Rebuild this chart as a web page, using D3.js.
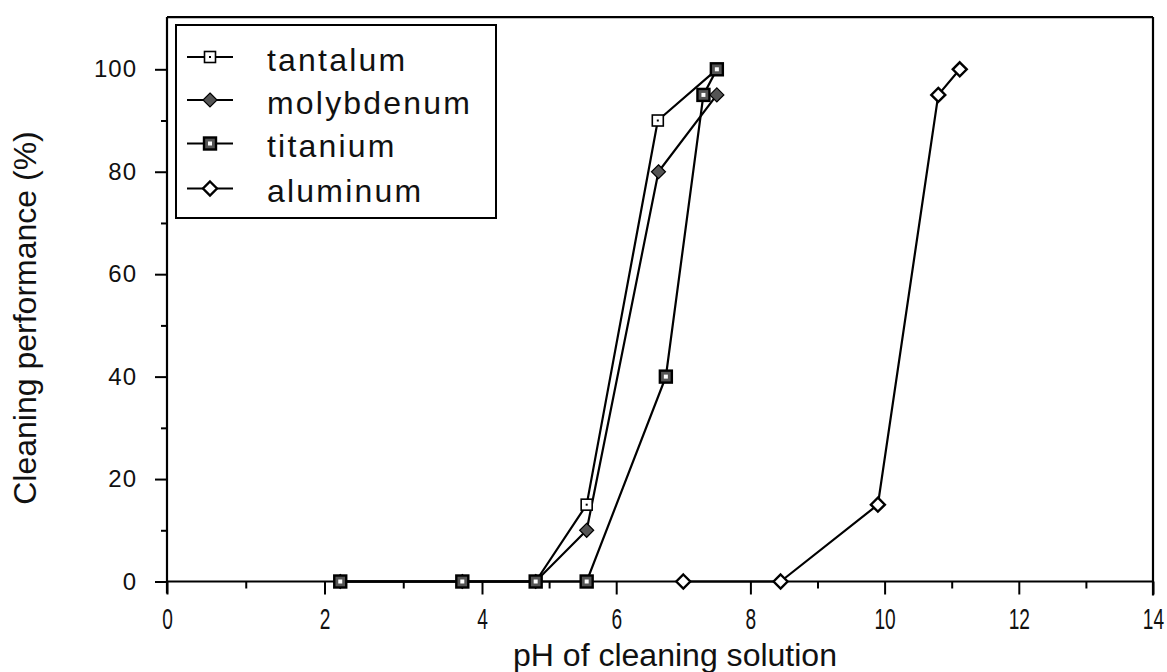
<!DOCTYPE html>
<html><head><meta charset="utf-8">
<script src="https://cdn.jsdelivr.net/npm/d3@7"></script>
<style>body{margin:0;background:#fff} svg{display:block}</style>
</head><body><svg id="c" width="1167" height="672"></svg>
<script>
// ---- data ----
const seriesNames = ["tantalum", "molybdenum", "titanium", "aluminum"];
const tantalumPH   = [2.2, 3.75, 4.8, 5.56, 6.62, 7.5];
const tantalumVal  = [0, 0, 0, 15, 90, 100];
const molybdenumPH  = [2.2, 3.75, 4.8, 5.56, 6.63, 7.5];
const molybdenumVal = [0, 0, 0, 10, 80, 95];
const titaniumPH   = [2.2, 3.75, 4.8, 5.56, 6.74, 7.3, 7.5];
const titaniumVal  = [0, 0, 0, 0, 40, 95, 100];
const aluminumPH   = [7.0, 8.45, 9.9, 10.8, 11.12];
const aluminumVal  = [0, 0, 15, 95, 100];
const xMajorTicks = [0, 2, 4, 6, 8, 10, 12, 14];
const xMinorTicks = [1, 3, 5, 7, 9, 11, 13];
const yMajorTicks = [0, 20, 40, 60, 80, 100];
const yMinorTicks = [10, 30, 50, 70, 90];
const xTitle = "pH of cleaning solution";
const yTitle = "Cleaning performance (%)";

const FONT = "'Liberation Sans', Arial, Helvetica, sans-serif";
const svg = d3.select("#c");

// scanned axis is slightly non-uniform: piecewise linear scale
const x = d3.scaleLinear().domain([0, 4, 14]).range([167, 482, 1153]);
const y = d3.scaleLinear().domain([0, 100]).range([581.5, 69.3]);
const yTopVal = 110.2;

const series = [
  {name: seriesNames[0], pts: d3.zip(tantalumPH, tantalumVal), sym: "tantalum"},
  {name: seriesNames[1], pts: d3.zip(molybdenumPH, molybdenumVal), sym: "molybdenum"},
  {name: seriesNames[2], pts: d3.zip(titaniumPH, titaniumVal), sym: "titanium"},
  {name: seriesNames[3], pts: d3.zip(aluminumPH, aluminumVal), sym: "aluminum"}
];

// ---- axes ----
const xAxisMajor = d3.axisBottom(x).tickValues(xMajorTicks).tickSize(13).tickPadding(14).tickFormat(d3.format("d"));
const xAxisMinor = d3.axisBottom(x).tickValues(xMinorTicks).tickSize(7).tickFormat("");
const gx = svg.append("g").attr("transform", `translate(0,${y(0)})`);
gx.call(xAxisMajor);
gx.append("g").call(xAxisMinor);
gx.selectAll(".domain").remove();
gx.selectAll("line").attr("stroke", "#000").attr("stroke-width", 2);
gx.selectAll("text").attr("font-family", FONT).attr("font-size", 29).attr("fill", "#111")
  .attr("transform", "scale(0.66,1)");

const yAxisMajor = d3.axisLeft(y).tickValues(yMajorTicks).tickSize(12).tickPadding(18);
const yAxisMinor = d3.axisLeft(y).tickValues(yMinorTicks).tickSize(6).tickFormat("");
const gy = svg.append("g").attr("transform", `translate(${x(0)},0)`);
gy.call(yAxisMajor);
gy.append("g").call(yAxisMinor);
gy.selectAll(".domain").remove();
gy.selectAll("line").attr("stroke", "#000").attr("stroke-width", 2);
gy.selectAll("text").attr("font-family", FONT).attr("font-size", 24).attr("fill", "#111")
  .attr("letter-spacing", 1);

// frame
const frame = svg.append("g").attr("stroke", "#000").attr("stroke-width", 2.2).attr("fill", "none");
frame.append("line").attr("x1", x(0)).attr("x2", x(14)).attr("y1", y(0)).attr("y2", y(0));
frame.append("line").attr("x1", x(0)).attr("x2", x(0)).attr("y1", y(0) + 12).attr("y2", y(yTopVal));
frame.append("line").attr("x1", x(0)).attr("x2", x(14)).attr("y1", y(yTopVal)).attr("y2", y(yTopVal));
frame.append("line").attr("x1", x(14)).attr("x2", x(14)).attr("y1", y(yTopVal)).attr("y2", y(0) + 14);

// titles
svg.append("text").attr("x", 675).attr("y", 666).attr("text-anchor", "middle")
  .attr("font-family", FONT).attr("font-size", 31).attr("fill", "#111")
  .attr("textLength", 324).attr("lengthAdjust", "spacingAndGlyphs").text(xTitle);
svg.append("text").attr("transform", "translate(36,318) rotate(-90)").attr("text-anchor", "middle")
  .attr("font-family", FONT).attr("font-size", 32).attr("fill", "#111").text(yTitle);

// ---- symbols ----
function drawSymbol(g, kind, cx, cy) {
  if (kind === "tantalum") {
    g.append("rect").attr("x", cx - 5.5).attr("y", cy - 5.5).attr("width", 11).attr("height", 11)
      .attr("fill", "#fff").attr("stroke", "#000").attr("stroke-width", 1.6);
    g.append("rect").attr("x", cx - 1).attr("y", cy - 1).attr("width", 2).attr("height", 2).attr("fill", "#000");
  } else if (kind === "molybdenum") {
    g.append("path").attr("d", `M${cx},${cy - 7}L${cx + 7},${cy}L${cx},${cy + 7}L${cx - 7},${cy}Z`)
      .attr("fill", "#555").attr("stroke", "#000").attr("stroke-width", 1.2);
  } else if (kind === "titanium") {
    g.append("rect").attr("x", cx - 6).attr("y", cy - 6).attr("width", 12).attr("height", 12)
      .attr("fill", "#555").attr("stroke", "#000").attr("stroke-width", 2.4);
    g.append("rect").attr("x", cx - 2).attr("y", cy - 2).attr("width", 4).attr("height", 4).attr("fill", "#fff");
  } else {
    g.append("path").attr("d", `M${cx},${cy - 7}L${cx + 7},${cy}L${cx},${cy + 7}L${cx - 7},${cy}Z`)
      .attr("fill", "#fff").attr("stroke", "#000").attr("stroke-width", 2.4);
  }
}

// ---- lines ----
const line = d3.line().x(d => x(d[0])).y(d => y(d[1]));
svg.append("g").selectAll("path").data(series).join("path")
  .attr("d", d => line(d.pts)).attr("fill", "none").attr("stroke", "#000").attr("stroke-width", 2.2);

const mg = svg.append("g");
series.forEach(s => s.pts.forEach(p => drawSymbol(mg, s.sym, x(p[0]), y(p[1]))));

// ---- legend ----
const lg = svg.append("g");
lg.append("rect").attr("x", 176).attr("y", 25).attr("width", 320).attr("height", 193)
  .attr("fill", "#fff").attr("stroke", "#000").attr("stroke-width", 2);
const rowY = [57, 100, 143.5, 188.5];
series.forEach((s, i) => {
  const cy = rowY[i];
  lg.append("line").attr("x1", 187).attr("x2", 233).attr("y1", cy).attr("y2", cy)
    .attr("stroke", "#000").attr("stroke-width", 2);
  drawSymbol(lg, s.sym, 210, cy);
  lg.append("text").attr("x", 267).attr("y", cy + 13.5).attr("font-family", FONT)
    .attr("font-size", 32).attr("letter-spacing", 2.2).attr("fill", "#111").text(s.name);
});
</script>
</body></html>
